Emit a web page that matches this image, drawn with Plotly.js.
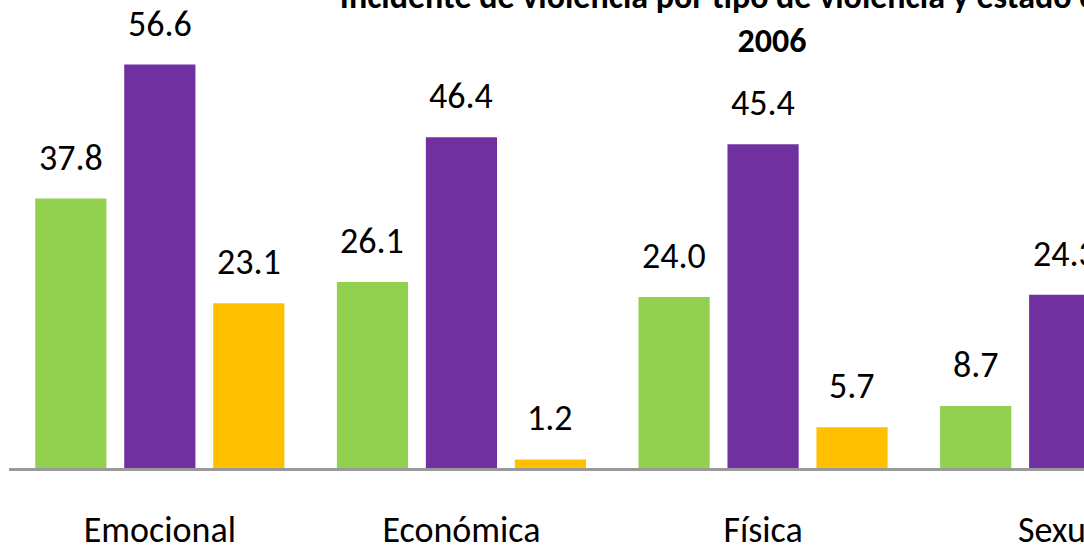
<!DOCTYPE html>
<html>
<head>
<meta charset="utf-8">
<script src="https://cdn.plot.ly/plotly-3.0.1.min.js"></script>
<style>html,body{margin:0;padding:0;background:#fff;}#chart{width:1084px;height:550px;}</style>
</head>
<body>
<div id="chart"></div>
<script>
const categories = ['Emocional', 'Económica', 'Física', 'Sexual'];
const seriesNames = ['Casadas o unidas', 'Alguna vez unidas', 'Solteras'];
const casadas = [37.8, 26.1, 24.0, 8.7];
const algunaVez = [56.6, 46.4, 45.4, 24.3];
const solteras = [23.1, 1.2, 5.7, null];
const colors = ['#92D050', '#7030A0', '#FFC000'];
const titleText = '<b>Incidente de violencia por tipo de violencia y estado conyugal</b><br><b>2006</b>';

const FONT = 'Carlito, Lato, "Open Sans", sans-serif';
const allSeries = [casadas, algunaVez, solteras];

const traces = allSeries.map((vals, j) => ({
  type: 'bar',
  name: seriesNames[j],
  x: categories,
  y: vals,
  marker: {color: colors[j]},
  hoverinfo: 'x+y+name'
}));

const bargap = 0.115;
const slot = (1 - bargap) / 3;
const annotations = [];
allSeries.forEach((vals, j) => {
  vals.forEach((v, i) => {
    if (v === null) return;
    annotations.push({
      x: i + (j - 1) * slot,
      y: v,
      xref: 'x', yref: 'y',
      text: v.toFixed(1),
      showarrow: false,
      yanchor: 'middle',
      yshift: 41,
      font: {family: FONT, size: 36, color: '#000'}
    });
  });
});

const layout = {
  width: 1084,
  height: 550,
  margin: {l: 9, r: 0, t: 0, b: 82},
  paper_bgcolor: '#fff',
  plot_bgcolor: '#fff',
  showlegend: false,
  barmode: 'group',
  bargap: bargap,
  bargroupgap: 0.2,
  title: {
    text: titleText,
    font: {family: FONT, size: 34, color: '#000'},
    xref: 'container', yref: 'container',
    x: 772 / 1084, xanchor: 'center',
    y: 1 - 8 / 550, yanchor: 'middle'
  },
  xaxis: {
    type: 'category',
    range: [-0.5, 3.064],
    showline: true,
    linecolor: '#999999',
    linewidth: 2.5,
    ticks: 'outside',
    ticklen: 28,
    tickcolor: 'rgba(0,0,0,0)',
    showgrid: false,
    zeroline: false,
    tickfont: {family: FONT, size: 36, color: '#000'}
  },
  yaxis: {
    range: [0, 468 / 7.129],
    visible: false,
    showgrid: false,
    zeroline: false
  },
  annotations: annotations
};

Plotly.newPlot('chart', traces, layout, {displayModeBar: false, staticPlot: true});
</script>
</body>
</html>
